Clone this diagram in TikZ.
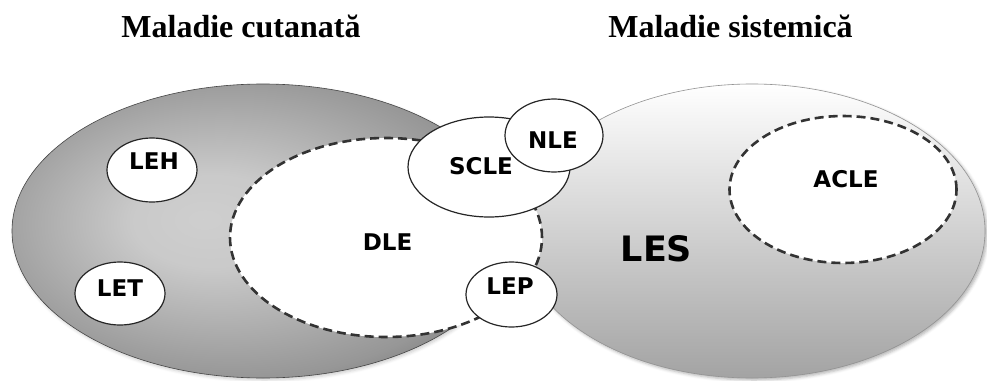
\documentclass[tikz,border=0pt]{standalone}
\usepackage{fontspec}
\setmainfont{Liberation Serif}
\newfontfamily\labfont{DejaVu Sans}
\usetikzlibrary{shapes.geometric,shadows.blur}

% soft radial grey for the skin-disease field, lighter towards the left middle
\definecolor{cutA}{gray}{0.81}
\definecolor{cutB}{gray}{0.79}
\definecolor{cutC}{gray}{0.68}
\definecolor{cutD}{gray}{0.59}
\definecolor{cutE}{gray}{0.46}
\pgfdeclareradialshading{cutshade}{\pgfpoint{-6bp}{2bp}}{%
  color(0bp)=(cutA); color(8bp)=(cutB); color(18bp)=(cutC);
  color(26bp)=(cutD); color(32bp)=(cutE); color(50bp)=(cutE)}

\tikzset{
  field/.style={ellipse, inner sep=0pt, outer sep=0pt, line width=0.6pt},
  dashzone/.style={ellipse, inner sep=0pt, fill=white, draw=black!80,
    line width=2.6pt, dash pattern=on 9pt off 5pt},
  bubble/.style={ellipse, inner sep=0pt, fill=white, draw=black!85, line width=1.2pt},
  lab/.style={anchor=base, inner sep=0pt, font=\labfont\bfseries\fontsize{23}{26}\selectfont},
  biglab/.style={anchor=base, inner sep=0pt, font=\labfont\bfseries\fontsize{35}{40}\selectfont},
  title/.style={anchor=base, inner sep=0pt, font=\bfseries\fontsize{32}{38}\selectfont}
}

\begin{document}
\begin{tikzpicture}[x=1pt,y=-1pt]
\useasboundingbox (0,0) rectangle (987,380);

% headings
\node[title] (hcut) at (241,37) {Maladie cutanată};
\node[title] (hsys) at (730.5,37) {Maladie sistemică};

% the two disease fields
\node[field, draw=gray!55!black, minimum width=502pt, minimum height=294pt, shading=cutshade, shade,
  blur shadow={shadow xshift=1.5pt, shadow yshift=-2pt, shadow opacity=20, shadow blur radius=3pt}]
  (cut) at (263,231) {};
\node[field, draw=gray!85, minimum width=466pt, minimum height=294pt, shade,
  top color=white, middle color=gray!22, bottom color=gray!72,
  blur shadow={shadow xshift=2pt, shadow yshift=-2pt, shadow opacity=30, shadow blur radius=3pt}]
  (sys) at (752,231) {};

% dashed sub-zones
\node[dashzone, minimum width=312pt, minimum height=199pt] (dle) at (386,237.5) {};
\node[dashzone, minimum width=227pt, minimum height=147pt] (acle) at (843,189.5) {};

% small forms
\node[bubble, minimum width=90pt, minimum height=64pt] (leh) at (152,170) {};
\node[bubble, minimum width=90pt, minimum height=63pt] (let) at (120,293.5) {};
\node[bubble, minimum width=162pt, minimum height=100pt] (scle) at (489,167) {};
\node[bubble, minimum width=98pt, minimum height=73pt] (nle) at (554,135.5) {};
\node[bubble, minimum width=91pt, minimum height=65pt] (lep) at (511.5,294.5) {};

% labels
\node[lab] (tleh) at (154,169) {LEH};
\node[lab] (tlet) at (120,296) {LET};
\node[lab] (tdle) at (387.5,250) {DLE};
\node[lab] (tscle) at (481,174) {SCLE};
\node[lab] (tnle) at (553,148) {NLE};
\node[lab] (tlep) at (510,294) {LEP};
\node[lab] (tacle) at (846,187) {ACLE};
\node[biglab] (tles) at (656.5,261) {LES};
\end{tikzpicture}
\end{document}
